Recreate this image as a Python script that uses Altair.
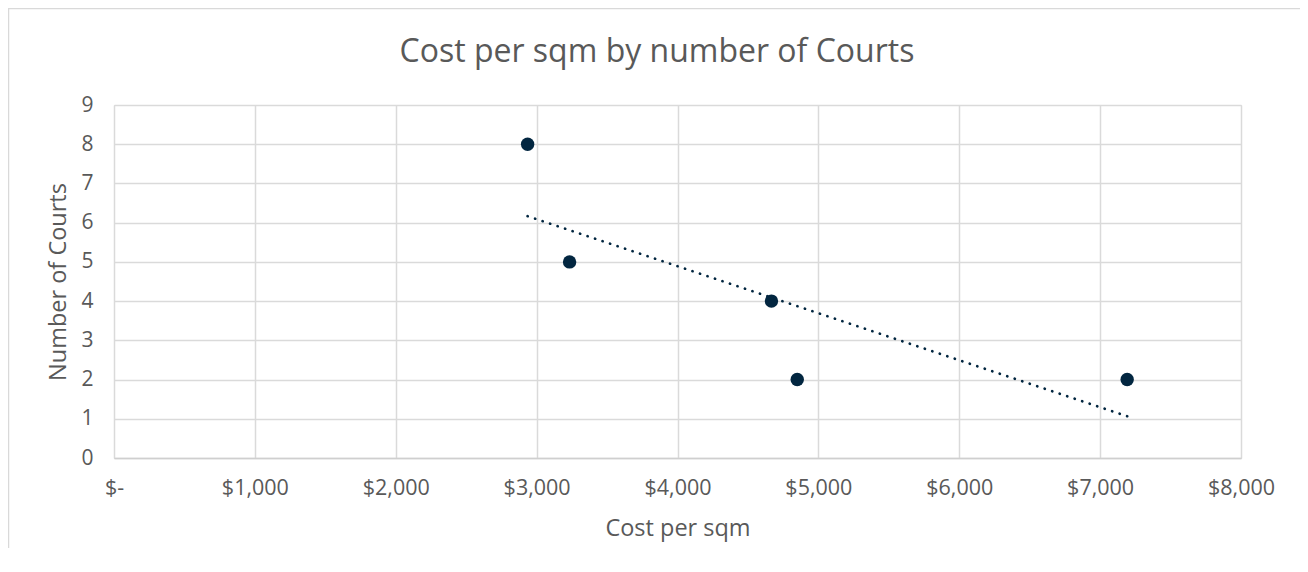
import altair as alt
import pandas as pd

cost_per_sqm = [2936, 3234, 4667, 4850, 7192]
courts = [8, 5, 4, 2, 2]
x_ticks = [0, 1000, 2000, 3000, 4000, 5000, 6000, 7000, 8000]
y_ticks = [0, 1, 2, 3, 4, 5, 6, 7, 8, 9]
title_text = "Cost per sqm by number of Courts"
x_title = "Cost per sqm"
y_title = "Number of Courts"

df = pd.DataFrame({"cost": cost_per_sqm, "courts": courts})

W, H = 1127, 353
FONT = "Open Sans"
TXT = "#595959"
DOT = "#022640"

x_enc = alt.X(
    "cost:Q",
    scale=alt.Scale(domain=[0, 8000], nice=False, zero=True),
    axis=alt.Axis(
        values=x_ticks,
        title=x_title,
        labelExpr="datum.value == 0 ? '$-  ' : '$' + format(datum.value, ',')",
        labelFont=FONT, labelFontSize=21.5, labelColor=TXT, labelPadding=19,
        labelFlush=False, labelOverlap=False,
        titleFont=FONT, titleFontSize=23.5, titleColor=TXT, titleFontWeight="normal",
        titleY=70, titleBaseline="middle",
        ticks=False, domain=True, domainColor="#cfcfcf", domainWidth=1.5,
        grid=True, gridColor="#dadada", gridWidth=1.5,
    ),
)
y_enc = alt.Y(
    "courts:Q",
    scale=alt.Scale(domain=[0, 9], nice=False),
    axis=alt.Axis(
        values=y_ticks,
        title=y_title,
        labelFont=FONT, labelFontSize=21, labelColor=TXT, labelPadding=21,
        labelFlush=False, labelOverlap=False,
        titleFont=FONT, titleFontSize=23.5, titleColor=TXT, titleFontWeight="normal",
        titleX=-56, titleY=H / 2, titleAngle=270, titleAlign="center", titleBaseline="middle",
        ticks=False, domain=False,
        grid=True, gridColor="#dadada", gridWidth=1.5,
    ),
)

base = alt.Chart(df)

points = base.mark_point(filled=True, size=180, color=DOT, opacity=1).encode(x=x_enc, y=y_enc)

trend = base.transform_regression("cost", "courts").mark_line(
    color=DOT, strokeWidth=2.7, strokeCap="round", strokeDash=[0.1, 7.8]
).encode(x=x_enc, y=y_enc)

frame_df = pd.DataFrame({"t": [title_text]})
border = alt.Chart(frame_df).mark_rect(fillOpacity=0, stroke="#d9d9d9", strokeWidth=1.5).encode(
    x=alt.value(-105.5), x2=alt.value(1192.5), y=alt.value(-96.5), y2=alt.value(700)
)
title = alt.Chart(frame_df).mark_text(
    font=FONT, fontSize=32, color=TXT, baseline="alphabetic", align="center"
).encode(text="t:N", x=alt.value(543), y=alt.value(-43))

chart = alt.layer(border, points, trend, title).properties(
    width=W, height=H,
    autosize=alt.AutoSizeParams(type="none"),
    padding={"left": 106, "top": 97, "right": 59, "bottom": 90},
).configure_view(stroke=None).configure(background="white")

chart.save("out.html", embed_options={"renderer": "svg", "actions": False})
